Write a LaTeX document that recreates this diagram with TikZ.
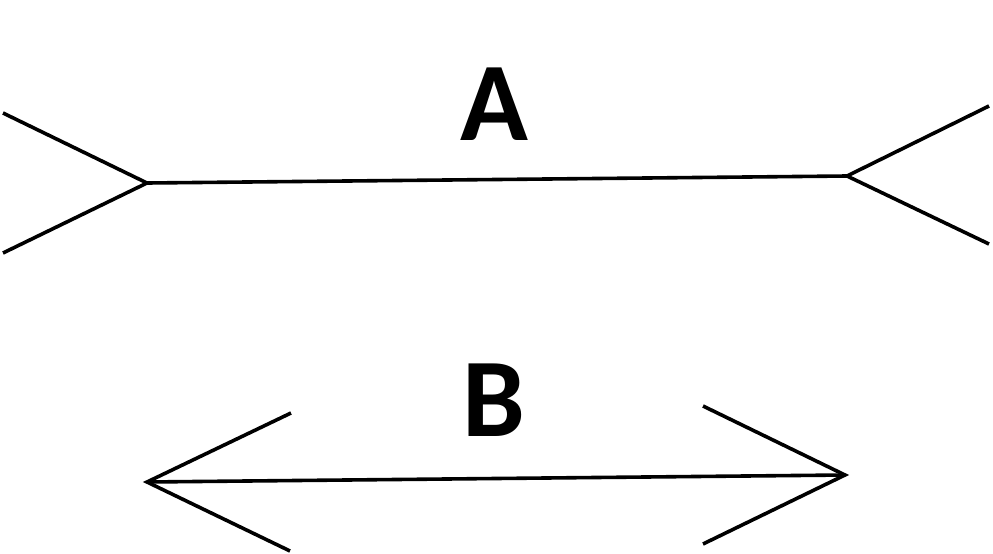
\documentclass[tikz,border=0pt]{standalone}
\usepackage{fontspec}
\setmainfont{Carlito}

\begin{document}
\begin{tikzpicture}[x=1pt, y=-1pt,
    fin/.style={line width=3.6pt, line join=miter},
    lbl/.style={font=\fontsize{112}{112}\selectfont\bfseries, anchor=base, inner sep=0pt}]
      \useasboundingbox (0,0) rectangle (993,554);
      % line A, fins pointing out
      \coordinate (a1) at (147,183);
      \coordinate (a2) at (847,176);
      \coordinate (a3) at (3,113);
      \coordinate (a4) at (3,253);
      \coordinate (a5) at (989,106);
      \coordinate (a6) at (989,244);
      % line B, fins pointing in
      \coordinate (b1) at (147,482);
      \coordinate (b2) at (845,475);
      \coordinate (b3) at (291,413);
      \coordinate (b4) at (290,551);
      \coordinate (b5) at (703,406);
      \coordinate (b6) at (703,544);

      \draw[fin] (a1) -- (a2);
      \draw[fin] (a3) -- (a1) -- (a4);
      \draw[fin] (a5) -- (a2) -- (a6);

      \draw[fin] (b1) -- (b2);
      \draw[fin] (b3) -- (b1) -- (b4);
      \draw[fin] (b5) -- (b2) -- (b6);

      \node[lbl] (labA) at (494,140) {A};
      \node[lbl] (labB) at (494,436) {B};
\end{tikzpicture}
\end{document}
